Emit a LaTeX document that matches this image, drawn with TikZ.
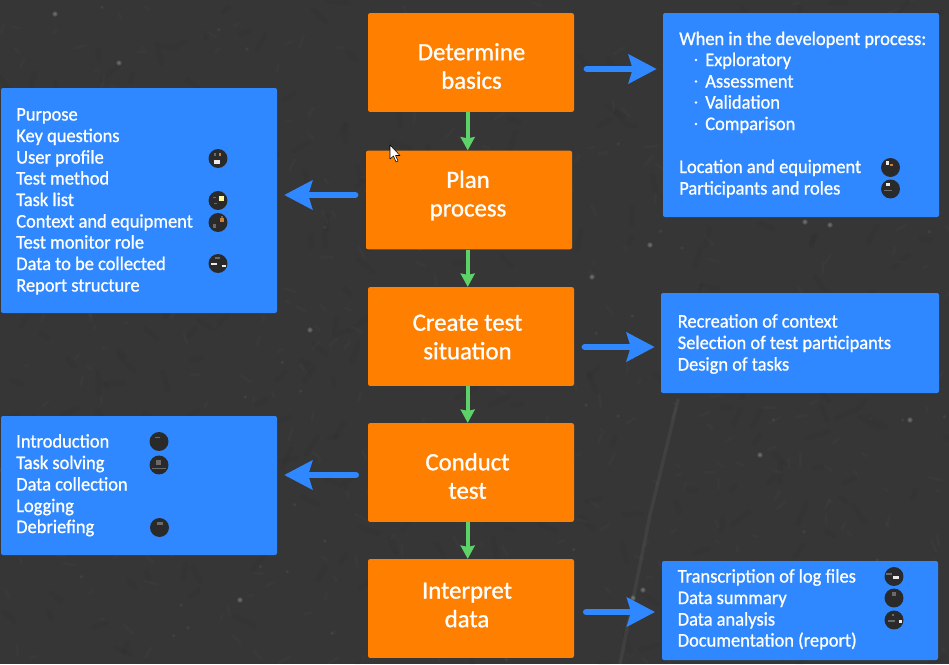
\documentclass[tikz,border=0pt]{standalone}
\usepackage{fontspec}
\setmainfont{Carlito}
\newfontfamily\medfont[FakeBold=0.9,FakeStretch=0.96]{Carlito}
\newfontfamily\stepfont[FakeBold=1.0]{Carlito}
\usetikzlibrary{arrows.meta,calc}
\definecolor{bgdark}{HTML}{363636}
\definecolor{boxorange}{HTML}{FF8000}
\definecolor{boxblue}{HTML}{2F88FF}
\definecolor{flowgreen}{HTML}{5DD268}
\definecolor{dotdark}{HTML}{2A2A2A}
\tikzset{
 x=0.75pt,y=-0.75pt,
 stepbox/.style={fill=boxorange,rounded corners=1.5pt,inner sep=0pt,minimum width=154.5pt,minimum height=74pt},
 steptext/.style={text=white,inner sep=0pt,align=center,font=\fontsize{18.6pt}{21.4pt}\stepfont},
 infobox/.style={fill=boxblue,rounded corners=1.5pt,inner sep=0pt},
 line/.style={anchor=base west,text=white,inner sep=0pt,font=\fontsize{14.4pt}{16pt}\medfont},
 flow/.style={draw=flowgreen,line width=3pt,-{Stealth[length=10pt,width=10.5pt,inset=1pt,fill=flowgreen]}},
 side/.style={draw=boxblue,line width=5pt,line cap=round,-{Stealth[length=21pt,width=21.5pt,inset=3pt,fill=boxblue]}},
 dot/.style={circle,fill=dotdark,inner sep=0pt,minimum size=14.2pt},
 speck/.style={fill=white,opacity=.14},
 thumb/.style={fill=white,opacity=.9},
 thumbdim/.style={fill=white,opacity=.3},
}
\newcommand{\boxat}[5]{\node[infobox,minimum width=#3*0.75pt-#1*0.75pt,minimum height=#4*0.75pt-#2*0.75pt] (#5) at ({(#1+#3)/2},{(#2+#4)/2}) {};}
\begin{document}
\begin{tikzpicture}
\useasboundingbox (0,0) rectangle (949,664);
\fill[bgdark] (0,0) rectangle (949,664);
% background texture
\pgfmathsetseed{4711}
\foreach \i in {1,...,450}{
  \pgfmathsetmacro{\px}{rnd*949}
  \pgfmathsetmacro{\py}{rnd*664}
  \pgfmathsetmacro{\pa}{rnd*360}
  \pgfmathsetmacro{\pl}{3+rnd*10}
  \draw[white,opacity=.018,line width=2pt,line cap=round] (\px,\py) -- ++(\pa:\pl);
}
\foreach \i in {1,...,300}{
  \pgfmathsetmacro{\px}{rnd*949}
  \pgfmathsetmacro{\py}{rnd*664}
  \pgfmathsetmacro{\pa}{rnd*360}
  \pgfmathsetmacro{\pl}{6+rnd*16}
  \draw[black,opacity=.025,line width=4pt,line cap=round] (\px,\py) -- ++(\pa:\pl);
}
\foreach \i in {1,...,70}{
  \pgfmathsetmacro{\px}{rnd*949}
  \pgfmathsetmacro{\py}{rnd*664}
  \fill[white,opacity=.05] (\px,\py) circle (1.4pt);
}
\foreach \p/\q in {119/63,633/598,643/590,760/455,592/277,55/14,738/606,650/245,310/330,240/600,830/225,910/420,805/222}{
  \fill[speck] (\p,\q) circle (2pt);
  \fill[speck] (\p,\q) circle (1.2pt);
}
\draw[white,opacity=.05,line width=2.6pt,line cap=round] (678,400) -- (650,515) -- (620,664);

% process steps
\node[stepbox] (b1) at (471,62.5) {};
\node[stepbox] (b2) at (469,200) {};
\node[stepbox] (b3) at (471,336.5) {};
\node[stepbox] (b4) at (471,472.5) {};
\node[stepbox] (b5) at (471,608.5) {};
\node[steptext] (t1) at (471.5,66) {Determine\\basics};
\node[steptext] (t2) at (468,195.5) {Plan\\process};
\node[steptext] (t3) at (467.5,337) {Create test\\situation};
\node[steptext] (t4) at (467.5,476) {Conduct\\test};
\node[steptext] (t5) at (467,605) {Interpret\\data};

% information boxes
\boxat{1}{88}{277}{313}{l1}
\boxat{663}{13}{939}{217}{r1}
\boxat{661}{293}{939}{393}{r3}
\boxat{1}{416}{277}{555}{l4}
\boxat{662}{561}{938}{660}{r5}

% flow arrows
\coordinate (gx) at (467.7,0);
\draw[flow] (gx |- b1.south) -- (gx |- b2.north);
\draw[flow] (gx |- b2.south) -- (gx |- b3.north);
\draw[flow] (gx |- b3.south) -- (gx |- b4.north);
\draw[flow] (gx |- b4.south) -- (gx |- b5.north);

% side arrows
\coordinate (a1) at (0,69);
\coordinate (a2) at (0,195);
\coordinate (a3) at (0,347);
\coordinate (a4) at (0,475);
\coordinate (a5) at (0,612);
\draw[side,shorten <=9.5pt,shorten >=4.5pt] (a1 -| b1.east) -- (a1 -| r1.west);
\draw[side,shorten <=8pt,shorten >=5.2pt] (a2 -| b2.west) -- (a2 -| l1.east);
\draw[side,shorten <=8pt,shorten >=4.5pt] (a3 -| b3.east) -- (a3 -| r3.west);
\draw[side,shorten <=9pt,shorten >=5.2pt] (a4 -| b4.west) -- (a4 -| l4.east);
\draw[side,shorten <=9pt,shorten >=5pt] (a5 -| b5.east) -- (a5 -| r5.west);

% left box 1
\foreach \t/\y [count=\n] in {Purpose/120.5,Key questions/142,User profile/163.5,Test method/184.5,Task list/206,Context and equipment/227.5,Test monitor role/248.5,Data to be collected/270,Report structure/291.5}{
  \node[line] (la\n) at (16,\y) {\t};
}
% right box 1
\node[line] (ra1) at (679,45) {When in the developent process:};
\foreach \t/\y [count=\n from 2] in {Exploratory/66,Assessment/87.5,Validation/108.5,Comparison/130}{
  \node[line] (ra\n) at (705,\y) {\t};
  \fill[white] (696,\y-6) circle (1.1pt);
}
\node[line] (ra6) at (679,173) {Location and equipment};
\node[line] (ra7) at (679,194.5) {Participants and roles};
% right box 3
\foreach \t/\y [count=\n] in {Recreation of context/327.5,Selection of test participants/349,Design of tasks/370.5}{
  \node[line] (rc\n) at (677.5,\y) {\t};
}
% left box 4
\foreach \t/\y [count=\n] in {Introduction/447.5,Task solving/469,Data collection/490.5,Logging/512,Debriefing/533}{
  \node[line] (ld\n) at (16,\y) {\t};
}
% right box 5
\foreach \t/\y [count=\n] in {Transcription of log files/582.5,Data summary/604,Data analysis/625.5,Documentation (report)/646.5}{
  \node[line] (re\n) at (677.5,\y) {\t};
}

% thumbnail dots
\node[dot] (d1) at (218,158.5) {};
\fill[thumb] (214,160) rectangle (220,163.5);
\fill[orange!60!gray] (219,152.5) rectangle (221,156);
\fill[thumbdim] (214,153) rectangle (216,156);
\node[dot] (d2) at (218,200.5) {};
\fill[yellow!40] (219,195.5) rectangle (224,201);
\fill[thumbdim] (213,197) rectangle (216,198);
\fill[thumbdim] (214,203) rectangle (217,204);
\node[dot] (d3) at (218,222.5) {};
\fill[orange!60!gray] (220,218) rectangle (224,222);
\fill[thumbdim] (213,224) rectangle (216,228);
\fill[thumbdim] (221,216) rectangle (223,218);
\node[dot] (d4) at (218,263.5) {};
\fill[thumb] (211,263) rectangle (217,265);
\fill[thumb] (222,265) rectangle (226,267);
\fill[thumbdim] (215,257) rectangle (220,259);
\node[dot] (d5) at (890.5,167.5) {};
\fill[thumb] (886,161) rectangle (889,165);
\fill[orange!60!gray] (890,164) rectangle (893,166);
\node[dot] (d6) at (890.5,189) {};
\fill[thumb] (886,183) rectangle (890,186);
\fill[thumbdim] (884,190) rectangle (892,191);
\node[dot] (d7) at (159,441.5) {};
\fill[thumbdim] (155,437) rectangle (160,438);
\node[dot] (d8) at (159,465) {};
\fill[thumbdim] (156,460) rectangle (161,465);
\fill[thumbdim] (152,468) rectangle (166,469);
\node[dot] (d9) at (159.5,527.5) {};
\fill[thumbdim] (157,522) rectangle (163,525);
\node[dot] (d10) at (894,576.5) {};
\fill[thumb] (893,576) rectangle (899,578.5);
\fill[thumbdim] (886,573) rectangle (892,575);
\node[dot] (d11) at (894,598) {};
\fill[thumbdim] (892,592) rectangle (896,596);
\node[dot] (d12) at (894,620) {};
\fill[thumb] (899,620) rectangle (902,622.5);
\fill[thumbdim] (888,620) rectangle (895,622);
\fill[thumbdim] (892,614) rectangle (894,616);

% mouse pointer
\draw[black,fill=white,line width=.4pt,line join=round] (390,145) -- (390,159) -- (393.5,156) -- (396,162) -- (398,161) -- (395.5,155.5) -- (400,155.5) -- cycle;
\end{tikzpicture}
\end{document}
